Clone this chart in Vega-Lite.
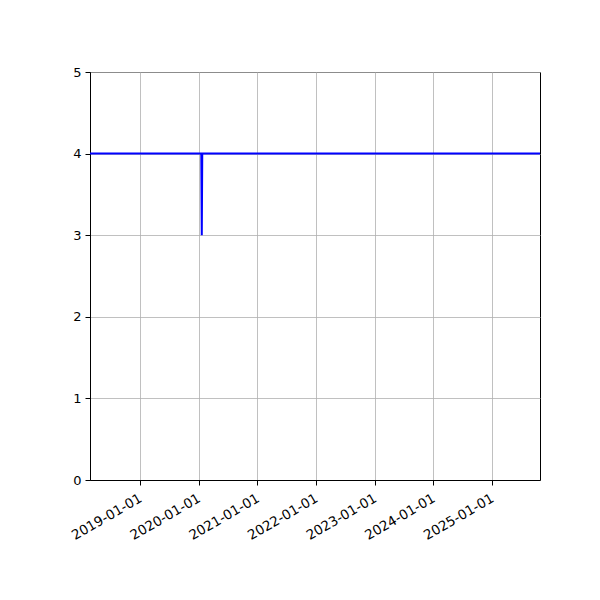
{
  "$schema": "https://vega.github.io/schema/vega-lite/v6.json",
  "width": 450,
  "height": 408,
  "autosize": {"type": "none"},
  "padding": {"left": 90, "top": 72, "right": 60, "bottom": 120},
  "background": "white",
  "config": {
    "view": {"stroke": "black", "strokeWidth": 1},
    "axis": {
      "labelFont": "DejaVu Sans",
      "labelFontSize": 13,
      "labelColor": "black",
      "domainColor": "black",
      "tickColor": "black",
      "tickSize": 5,
      "gridColor": "#b0b0b0",
      "gridWidth": 0.8,
      "labelPadding": 4
    }
  },
  "data": {
    "values": [
      {"date": "2018-02-20", "value": 4},
      {"date": "2020-01-18", "value": 4},
      {"date": "2020-01-21", "value": 3},
      {"date": "2020-01-24", "value": 4},
      {"date": "2025-11-01", "value": 4}
    ]
  },
  "mark": {"type": "line", "color": "#0000ff", "strokeWidth": 2, "clip": true},
  "encoding": {
    "x": {
      "field": "date",
      "type": "temporal",
      "scale": {"type": "utc", "domain": [{"year": 2018, "month": 2, "date": 24, "utc": true}, {"year": 2025, "month": 10, "date": 27, "utc": true}]},
      "axis": {
        "title": null,
        "labelExpr": "utcFormat(datum.value, '%Y-%m-%d')",
        "labelAngle": -30,
        "labelAlign": "right",
        "labelBaseline": "top",
        "labelOverlap": false,
        "labelFlush": false,
        "labelFontSize": 13.5,
        "labelPadding": 6,
        "labelOffset": -3,
        "values": [
          {"year": 2019, "month": 1, "date": 1, "utc": true},
          {"year": 2020, "month": 1, "date": 1, "utc": true},
          {"year": 2021, "month": 1, "date": 1, "utc": true},
          {"year": 2022, "month": 1, "date": 1, "utc": true},
          {"year": 2023, "month": 1, "date": 1, "utc": true},
          {"year": 2024, "month": 1, "date": 1, "utc": true},
          {"year": 2025, "month": 1, "date": 1, "utc": true}
        ]
      }
    },
    "y": {
      "field": "value",
      "type": "quantitative",
      "scale": {"domain": [0, 5], "nice": false, "zero": false},
      "axis": {"title": null, "values": [0, 1, 2, 3, 4, 5]}
    }
  }
}
